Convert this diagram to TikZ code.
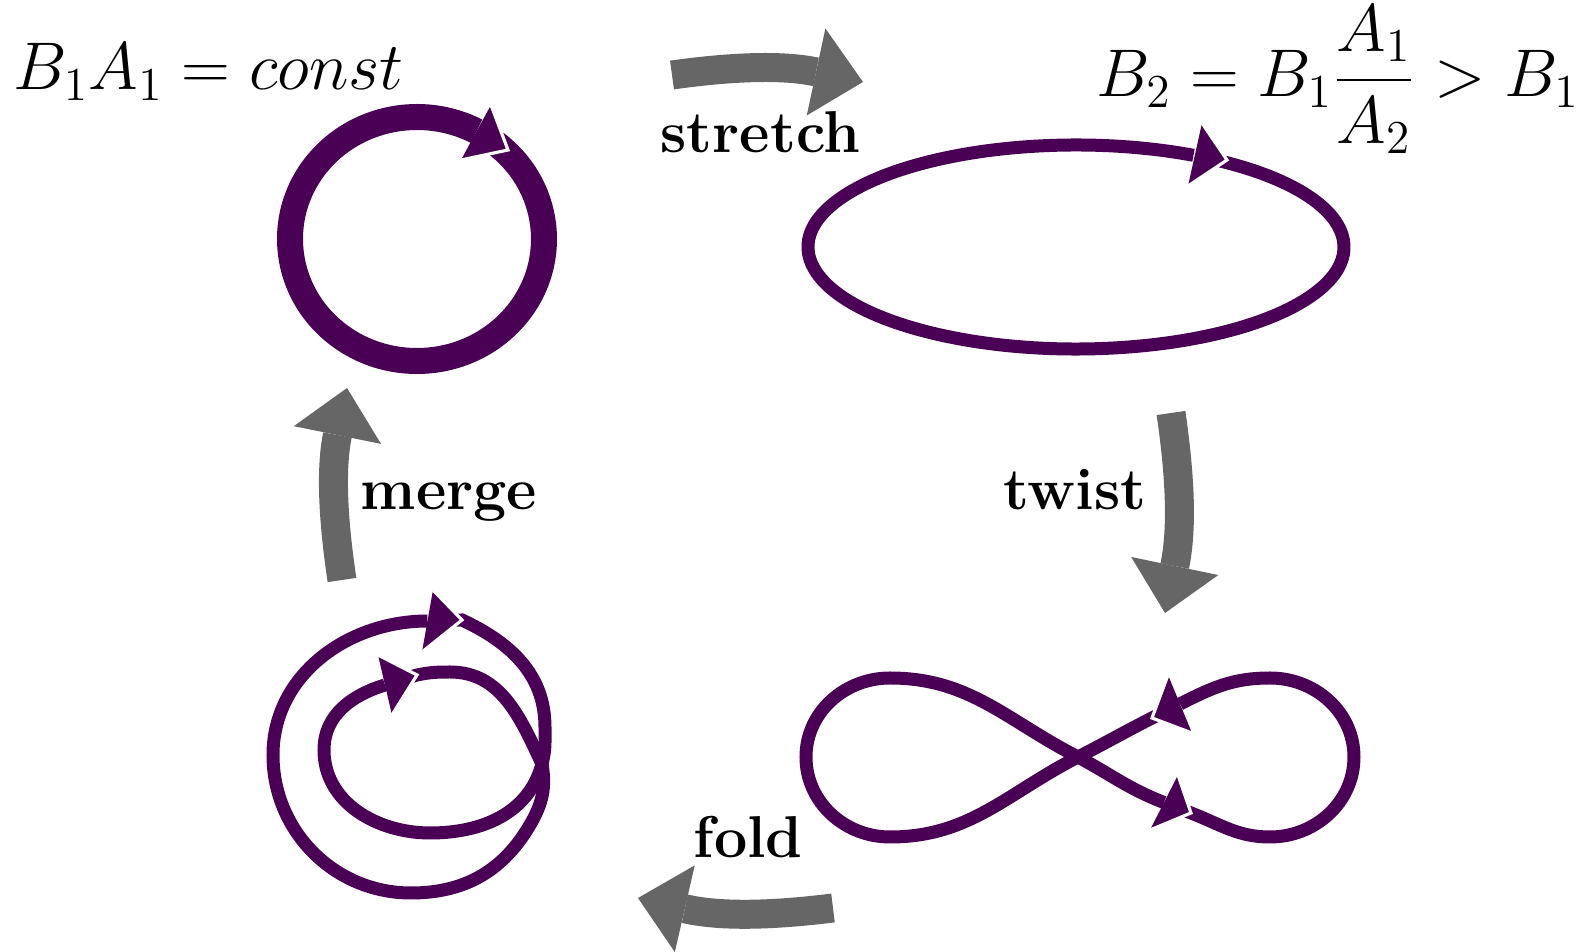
\RequirePackage{fix-cm}
\documentclass[tikz,border=0pt]{standalone}
\usepackage{amsmath,amssymb}
\usetikzlibrary{arrows.meta}

\definecolor{loopviolet}{RGB}{74,0,85}
\definecolor{flowgray}{RGB}{102,102,102}

% head of a flux loop: back corner, tip, back corner
\newcommand{\loophead}[3]{%
  \fill[loopviolet] (#1) -- (#2) -- (#3) -- cycle;
  \draw[white,line width=0.9pt] (#1) -- (#2) -- (#3);}

\begin{document}
\begin{tikzpicture}[
  every node/.style={inner sep=0pt},
  eqn/.style={font=\fontsize{19.2}{23}\selectfont},
  stage/.style={font=\fontsize{16.8}{20}\selectfont\bfseries},
  flow/.style={draw=flowgray,line width=2.9mm,bend left=10,
    -{Triangle[length=4.8mm,width=8.9mm,line width=0pt]}},
  ring/.style={draw=loopviolet,line width=1.3mm},
  fatring/.style={ring,line width=2.6mm}
]
\useasboundingbox (0,0) rectangle (15.92,9.52);

% ------------------------------------------------------------------
% Flux relations
% ------------------------------------------------------------------
\node[eqn,anchor=base west] (keep) at (0.13,8.62) {$B_1A_1 = const$};
\node[eqn,anchor=base east] (gain) at (15.80,8.55) {$B_2 = B_1\dfrac{A_1}{A_2} > B_1$};

% ------------------------------------------------------------------
% Initial loop
% ------------------------------------------------------------------
\begin{scope}[shift={(4.17,7.13)}]
  \draw[fatring] (52:1.27 and 1.22)
    arc[start angle=52,end angle=-298,x radius=1.27,y radius=1.22];
\end{scope}
\loophead{4.91,8.47}{5.08,8.02}{4.61,7.92}

% ------------------------------------------------------------------
% Stretched loop
% ------------------------------------------------------------------
\begin{scope}[shift={(10.76,7.05)}]
  \draw[ring] (60:2.68 and 1.02)
    arc[start angle=60,end angle=-296,x radius=2.68,y radius=1.02];
\end{scope}
\loophead{12.02,8.29}{12.27,7.92}{11.88,7.66}

% ------------------------------------------------------------------
% Twisted loop
% ------------------------------------------------------------------
\begin{scope}
  \coordinate (X) at (10.78,1.95);
  \draw[ring] (11.775,1.44) -- (11.91,1.39)
    to[out=-21,in=180] (12.70,1.15) to[out=0,in=-90] (13.54,1.95)
    to[out=90,in=0] (12.70,2.74) to[out=180,in=27] (11.80,2.48);
  \draw[ring] (11.66,2.41) -- (11.52,2.34) to[out=207,in=27] (X)
    to[out=207,in=0] (8.90,1.15) to[out=180,in=-90] (8.06,1.95)
    to[out=90,in=180] (8.90,2.74) to[out=0,in=153] (X)
    to[out=-28,in=159] (11.64,1.495);
  \loophead{11.68,2.77}{11.52,2.34}{11.92,2.19}
  \loophead{11.78,1.77}{11.91,1.39}{11.50,1.22}
\end{scope}

% ------------------------------------------------------------------
% Folded loop
% ------------------------------------------------------------------
\begin{scope}
  \coordinate (Y) at (5.42,1.88);
  \draw[ring] (4.01,2.72) -- (4.17,2.77) to[out=12,in=180] (4.50,2.80)
    to[out=0,in=115] (Y) to[out=-80,in=60] (5.305,1.28)
    to[out=-120,in=0] (4.11,0.59) to[out=180,in=-90] (2.73,1.97)
    to[out=90,in=180] (4.275,3.31);
  \draw[ring] (4.45,3.315) -- (4.62,3.32) to[out=-25,in=90] (5.45,2.25)
    to[out=-90,in=75] (Y) to[out=-105,in=0] (4.30,1.19)
    to[out=180,in=-90] (3.24,2.02) to[out=90,in=197] (3.85,2.67);
  \loophead{4.33,3.62}{4.62,3.32}{4.22,3.00}
  \loophead{3.78,2.97}{4.17,2.77}{3.92,2.37}
\end{scope}

% ------------------------------------------------------------------
% Cycle steps
% ------------------------------------------------------------------
\coordinate (s0) at (6.72,8.77);
\coordinate (s1) at (8.63,8.70);
\coordinate (t0) at (11.71,5.39);
\coordinate (t1) at (11.65,3.39);
\coordinate (f0) at (8.33,0.44);
\coordinate (f1) at (6.38,0.54);
\coordinate (m0) at (3.42,3.72);
\coordinate (m1) at (3.47,5.64);

\draw[flow] (s0) to (s1);
\draw[flow] (t0) to (t1);
\draw[flow] (f0) to (f1);
\draw[flow] (m0) to (m1);

\node[stage,anchor=base west] (stretch) at (6.60,7.99) {stretch};
\node[stage,anchor=base east] (twist) at (11.47,4.42) {twist};
\node[stage,anchor=base west] (fold) at (6.93,0.94) {fold};
\node[stage,anchor=base west] (merge) at (3.60,4.42) {merge};

\end{tikzpicture}
\end{document}
